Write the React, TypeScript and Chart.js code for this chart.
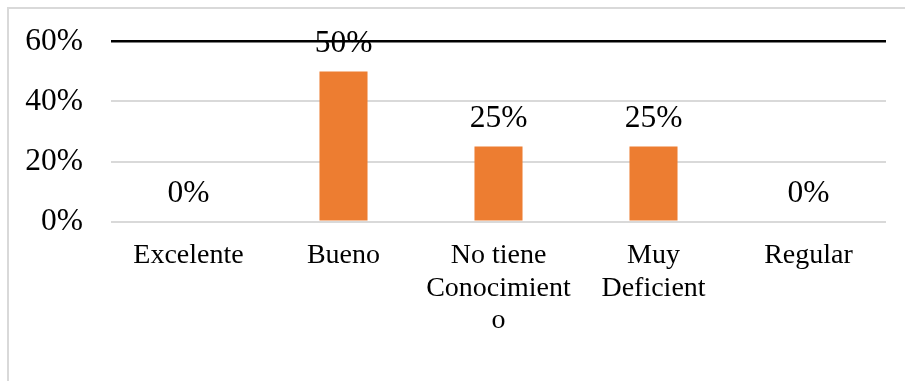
import React, { useEffect, useRef } from "react";
import { Chart, registerables } from "chart.js";

Chart.register(...registerables);

// Survey answers and their share of responses
const categories: (string | string[])[] = [
  "Excelente",
  "Bueno",
  ["No tiene", "Conocimient", "o"],
  ["Muy", "Deficient"],
  "Regular",
];
const shares: number[] = [0, 0.5, 0.25, 0.25, 0];
const yTicks: number[] = [0, 0.2, 0.4, 0.6];

const FONT = "'Liberation Serif', 'Times New Roman', serif";
const BAR_COLOR = "#ED7D31";

// Writes each bar's percentage above its top
const valueLabels = {
  id: "valueLabels",
  afterDatasetsDraw(chart: any) {
    const { ctx } = chart;
    const meta = chart.getDatasetMeta(0);
    ctx.save();
    ctx.font = `31.5px ${FONT}`;
    ctx.fillStyle = "#000";
    ctx.textAlign = "center";
    ctx.textBaseline = "alphabetic";
    meta.data.forEach((bar: any, i: number) => {
      const v = shares[i];
      ctx.fillText(`${Math.round(v * 100)}%`, bar.x, bar.y - 19.5);
    });
    ctx.restore();
  },
};

export default function App() {
  const canvasRef = useRef<HTMLCanvasElement | null>(null);

  useEffect(() => {
    const canvas = canvasRef.current;
    if (!canvas) return;
    const chart = new Chart(canvas, {
      type: "bar",
      data: {
        labels: categories,
        datasets: [
          {
            data: shares,
            backgroundColor: BAR_COLOR,
            borderWidth: 0,
            barPercentage: 0.31,
            categoryPercentage: 1,
          },
        ],
      },
      options: {
        animation: false,
        responsive: false,
        devicePixelRatio: 1,
        layout: { padding: { top: 41.5, right: 19, bottom: 0, left: 0 } },
        plugins: {
          legend: { display: false },
          tooltip: { enabled: false },
        },
        scales: {
          x: {
            grid: { display: false, drawTicks: false },
            border: { display: false },
            ticks: {
              color: "#000",
              padding: 18,
              maxRotation: 0,
              autoSkip: false,
              font: { family: FONT, size: 28, lineHeight: 32.5 / 28 },
            },
            afterFit: (scale: any) => {
              scale.height = 159.5;
              scale.paddingLeft = 0;
              scale.paddingRight = 0;
            },
          },
          y: {
            min: 0,
            max: 0.6,
            afterBuildTicks: (scale: any) => {
              scale.ticks = yTicks.map((v) => ({ value: v }));
            },
            grid: {
              drawTicks: false,
              color: (c: any) => (c.tick && Math.abs(c.tick.value - 0.6) < 1e-6 ? "#000" : "#d9d9d9"),
              lineWidth: (c: any) => (c.tick && Math.abs(c.tick.value - 0.6) < 1e-6 ? 2.5 : 2),
            },
            border: { display: false },
            ticks: {
              color: "#000",
              padding: 28,
              font: { family: FONT, size: 31.5 },
              callback: (v: any) => `${Math.round(Number(v) * 100)}%`,
            },
            afterFit: (scale: any) => {
              scale.width = 111;
              scale.paddingTop = 0;
              scale.paddingBottom = 0;
            },
          },
        },
      },
      plugins: [valueLabels],
    });
    return () => chart.destroy();
  }, []);

  return (
    <div style={{ position: "fixed", left: 0, top: 0, width: 905, height: 381, background: "#fff", overflow: "hidden" }}>
      <div
        style={{
          position: "absolute",
          left: 7,
          top: 7,
          width: 1000,
          height: 1000,
          borderLeft: "2px solid #d9d9d9",
          borderTop: "2px solid #d9d9d9",
        }}
      />
      <canvas ref={canvasRef} width={905} height={381} style={{ position: "absolute", left: 0, top: 0 }} />
    </div>
  );
}
